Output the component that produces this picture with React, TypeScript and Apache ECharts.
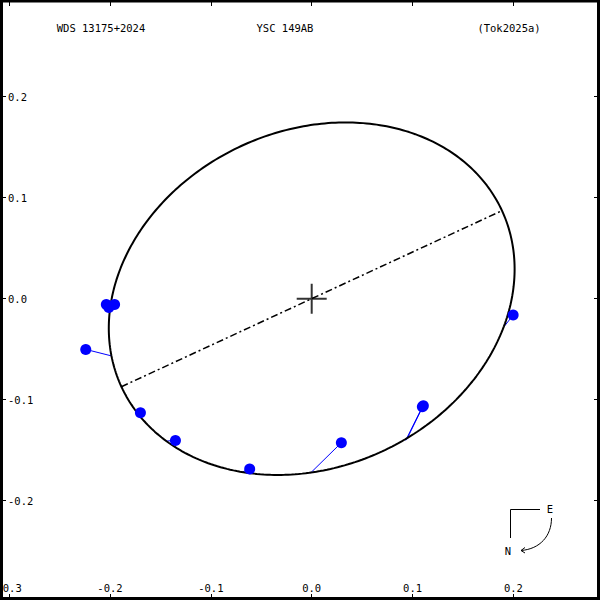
import { useEffect, useRef } from "react";
import * as echarts from "echarts";

// Axis ranges and tick values
const X_MIN = -0.309;
const X_MAX = 0.2858;
const Y_MIN = -0.2983;
const Y_MAX = 0.2957;
const xTicks = [-0.3, -0.2, -0.1, 0.0, 0.1, 0.2];
const yTicks = [-0.2, -0.1, 0.0, 0.1, 0.2];

// Titles
const titleLeft = "WDS 13175+2024";
const titleMid = "YSC 149AB";
const titleRight = "(Tok2025a)";

// Apparent orbit (ellipse) parameters, arcsec / degrees
const orbitSemiMajor = 0.2078;
const orbitSemiMinor = 0.1665;
const orbitTiltDeg = 24.8;

// Observations (measured) and their predicted positions on the orbit
const obsX = [-0.2036, -0.1954, -0.2011, -0.224, -0.1698, -0.1351, -0.0615, 0.0294, 0.1097, 0.1107, 0.1997];
const obsY = [-0.0057, -0.0057, -0.0087, -0.0502, -0.1129, -0.1403, -0.1685, -0.1426, -0.1069, -0.1059, -0.0162];
const predX = [-0.1995, -0.1993, -0.1997, -0.1987, -0.170, -0.1445, -0.0684, -0.001, 0.0932, 0.0942, 0.1914];
const predY = [-0.0045, -0.0055, -0.0065, -0.0566, -0.111, -0.141, -0.1714, -0.1724, -0.1403, -0.1393, -0.0268];

const FONT = '"DejaVu Sans Mono", monospace';
const FS = 10.5;

export default function App() {
  const ref = useRef<HTMLDivElement>(null);
  useEffect(() => {
    const chart = echarts.init(ref.current!, null, { renderer: "svg" });
    const phi = (orbitTiltDeg * Math.PI) / 180;
    const orbit: number[][] = [];
    const N = 360;
    for (let k = 0; k <= N; k++) {
      const t = (2 * Math.PI * k) / N;
      const x = orbitSemiMajor * Math.cos(t) * Math.cos(phi) - orbitSemiMinor * Math.sin(t) * Math.sin(phi);
      const y = orbitSemiMajor * Math.cos(t) * Math.sin(phi) + orbitSemiMinor * Math.sin(t) * Math.cos(phi);
      orbit.push([x, y]);
    }
    const nodes = [
      [-orbitSemiMajor * Math.cos(phi), -orbitSemiMajor * Math.sin(phi)],
      [orbitSemiMajor * Math.cos(phi), orbitSemiMajor * Math.sin(phi)],
    ];
    const obs = obsX.map((x, i) => [x, obsY[i]]);
    const residuals = obsX.map((x, i) => ({ coords: [[x, obsY[i]], [predX[i], predY[i]]] }));

    const fmt = (v: number) => v.toFixed(1);
    const tickStyle = { color: "#000", width: 1 };
    const hiddenLine = { show: false, onZero: false };

    const option: any = {
      animation: false,
      backgroundColor: "#fff",
      grid: { left: 0, right: 0, top: 0, bottom: 0, containLabel: false, outerBoundsMode: "none" },
      xAxis: [
        {
          type: "value", position: "bottom", min: X_MIN, max: X_MAX,
          splitLine: { show: false }, axisLine: hiddenLine,
          axisTick: { show: true, inside: true, length: 6, customValues: xTicks, lineStyle: tickStyle },
          axisLabel: {
            show: true, inside: true, customValues: xTicks, formatter: fmt, color: "#000",
            fontFamily: FONT, fontSize: FS, margin: 7, showMinLabel: true, showMaxLabel: true,
          },
        },
        {
          type: "value", position: "top", min: X_MIN, max: X_MAX,
          splitLine: { show: false }, axisLine: hiddenLine,
          axisTick: { show: true, inside: true, length: 6, customValues: xTicks, lineStyle: tickStyle },
          axisLabel: { show: false },
        },
      ],
      yAxis: [
        {
          type: "value", position: "left", min: Y_MIN, max: Y_MAX,
          splitLine: { show: false }, axisLine: hiddenLine,
          axisTick: { show: true, inside: true, length: 6, customValues: yTicks, lineStyle: tickStyle },
          axisLabel: {
            show: true, inside: true, customValues: yTicks, formatter: fmt, color: "#000",
            fontFamily: FONT, fontSize: FS, margin: 8,
          },
        },
        {
          type: "value", position: "right", min: Y_MIN, max: Y_MAX,
          splitLine: { show: false }, axisLine: hiddenLine,
          axisTick: { show: true, inside: true, length: 6, customValues: yTicks, lineStyle: tickStyle },
          axisLabel: { show: false },
        },
      ],
      series: [
        {
          type: "lines", coordinateSystem: "cartesian2d", xAxisIndex: 0, yAxisIndex: 0,
          data: residuals, lineStyle: { color: "#0000ff", width: 1, opacity: 1 }, z: 2,
        },
        {
          type: "line", data: orbit, showSymbol: false, symbol: "none", smooth: false,
          lineStyle: { color: "#000", width: 2 }, z: 3, silent: true,
        },
        {
          type: "line", data: nodes, showSymbol: false, symbol: "none",
          lineStyle: { color: "#000", width: 1.5, type: [7, 3, 2, 3] }, z: 3, silent: true,
        },
        {
          type: "scatter", data: [[0, 0]], symbol: "path://M14,0H16V30H14Z M0,14H30V16H0Z", symbolSize: 30,
          itemStyle: { color: "#000" }, z: 4,
        },
        {
          type: "scatter", data: obs, symbol: "circle", symbolSize: 11,
          itemStyle: { color: "#0000ff", opacity: 1 }, z: 5,
        },
      ],
      graphic: [
        { type: "rect", shape: { x: 1.5, y: 1, width: 597, height: 597.5 }, style: { fill: "none", stroke: "#000", lineWidth: 3 }, z: 100, silent: true },
        { type: "text", x: 101, y: 28, style: { text: titleLeft, fill: "#000", fontFamily: FONT, fontSize: FS, textAlign: "center", textVerticalAlign: "middle" } },
        { type: "text", x: 285, y: 28, style: { text: titleMid, fill: "#000", fontFamily: FONT, fontSize: FS, textAlign: "center", textVerticalAlign: "middle" } },
        { type: "text", x: 509, y: 28, style: { text: titleRight, fill: "#000", fontFamily: FONT, fontSize: FS, textAlign: "center", textVerticalAlign: "middle" } },
        { type: "line", shape: { x1: 510.5, y1: 509.5, x2: 540, y2: 509.5 }, style: { stroke: "#000", lineWidth: 1 } },
        { type: "line", shape: { x1: 510.5, y1: 509.5, x2: 510.5, y2: 538 }, style: { stroke: "#000", lineWidth: 1 } },
        { type: "text", x: 550, y: 509, style: { text: "E", fill: "#000", fontFamily: FONT, fontSize: FS, textAlign: "center", textVerticalAlign: "middle" } },
        { type: "text", x: 508, y: 551, style: { text: "N", fill: "#000", fontFamily: FONT, fontSize: FS, textAlign: "center", textVerticalAlign: "middle" } },
        { type: "bezierCurve", shape: { x1: 551.5, y1: 518, cpx1: 551.5, cpy1: 536, cpx2: 540, cpy2: 549, x2: 521, y2: 550.5 }, style: { stroke: "#000", lineWidth: 1, fill: "none" } },
        { type: "polyline", shape: { points: [[525, 547.5], [521, 550.5], [525, 553]] }, style: { stroke: "#000", lineWidth: 1, fill: "none" } },
      ],
    };
    chart.setOption(option);
    return () => chart.dispose();
  }, []);
  return (
    <div
      ref={ref}
      style={{ position: "fixed", left: 0, top: 0, width: 600, height: 600, background: "#fff" }}
    />
  );
}
